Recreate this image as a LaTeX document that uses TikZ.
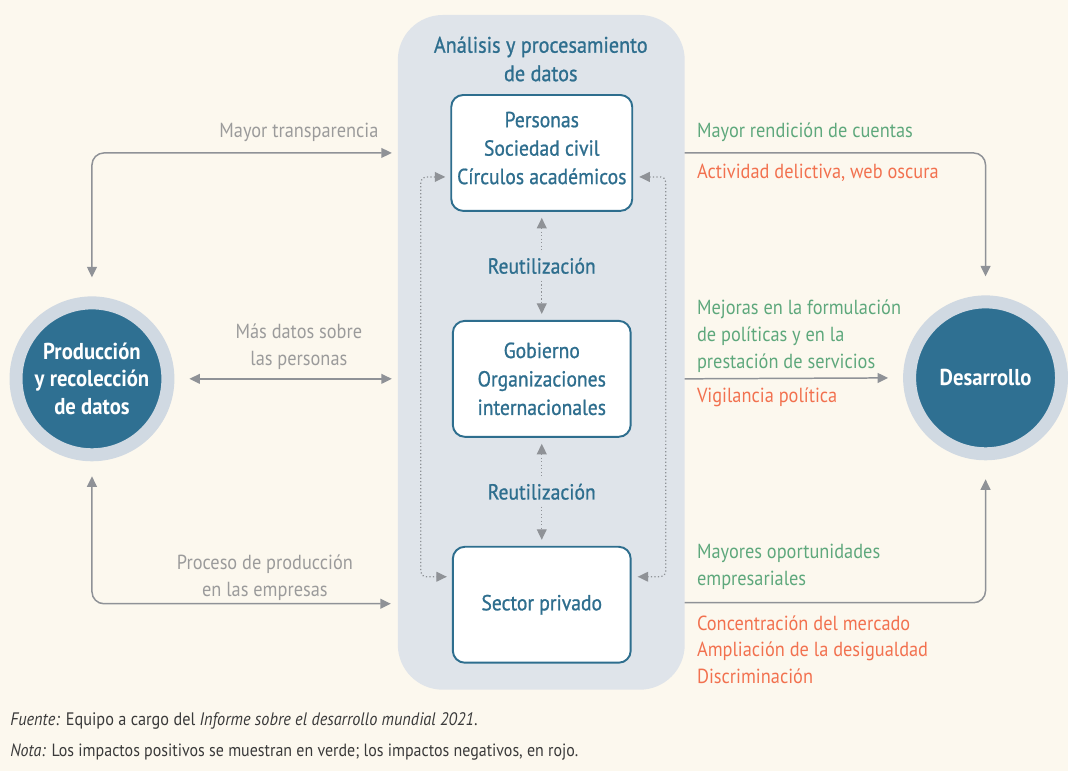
\documentclass[tikz,border=0pt]{standalone}
\usepackage{fontspec}
\setmainfont{PT Sans}[FakeStretch=0.9]
\newfontfamily\medfont{PT Sans}[FakeStretch=0.9,FakeBold=0.9]
\usetikzlibrary{arrows.meta,calc}

\definecolor{bgcream}{HTML}{FCF8EE}
\definecolor{panelgray}{HTML}{DFE4EA}
\definecolor{tealtxt}{HTML}{2E6E8E}
\definecolor{hubblue}{HTML}{2F7092}
\definecolor{hubring}{HTML}{D0D9E2}
\definecolor{arrowgray}{HTML}{8F9297}
\definecolor{labelgray}{HTML}{9B9B9B}
\definecolor{goodgreen}{HTML}{5EA87C}
\definecolor{badred}{HTML}{F2714F}
\definecolor{notetxt}{HTML}{3A3A3A}

\tikzset{
  databox/.style={draw=tealtxt, line width=1.1pt, fill=white, rounded corners=0.24cm,
    minimum width=3.56cm, minimum height=2.32cm, align=center, text=tealtxt,
    font=\medfont\fontsize{12.4}{16.2}\selectfont},
  hub/.style={circle, fill=hubblue, draw=hubring, line width=0.26cm, minimum size=3.04cm,
    inner sep=0pt, align=center, text=white, font=\bfseries\fontsize{13.1}{15.9}\selectfont},
  grayline/.style={draw=arrowgray, line width=0.85pt},
  dotline/.style={draw=arrowgray, line width=0.7pt, dash pattern=on 0.7pt off 1.3pt},
  reuse/.style={fill=panelgray, text=tealtxt, inner sep=3pt, font=\medfont\fontsize{12.4}{16.2}\selectfont},
  lbl/.style={inner sep=0pt, font=\fontsize{11.6}{15.3}\selectfont},
}

\begin{document}
\begin{tikzpicture}[x=0.02cm, y=-0.02cm, >={Triangle[length=6pt,width=5.6pt]}]
  % Background and central panel
  \fill[bgcream] (0,0) rectangle (1068,771);
  \fill[panelgray, rounded corners=0.9cm] (398,15) rectangle (685,690);

  % Title of the panel
  \node[align=center, text=tealtxt, font=\medfont\fontsize{12.8}{16.2}\selectfont] (titulo) at (541,59) {Análisis y procesamiento\\de datos};

  % Actors in the panel
  \node[databox] (personas) at (542,153) {\raisebox{1.7pt}[\height][\depth]{\begin{tabular}{@{}c@{}}Personas\\Sociedad civil\\Círculos académicos\end{tabular}}};
  \node[databox] (gobierno) at (542,379) {Gobierno\\Organizaciones\\internacionales};
  \node[databox] (privado) at (542,605) {Sector privado};

  % Circles on both sides
  \node[hub] (produccion) at (92,379) {Producción\\y recolección\\de datos};
  \node[hub] (desarrollo) at (986,378) {Desarrollo};

  % Reuse between actors
  \draw[dotline,<->,shorten <=0.12cm,shorten >=0.12cm] (personas.south) -- node[reuse] (reuso1) {Reutilización} (gobierno.north);
  \draw[dotline,<->,shorten <=0.12cm,shorten >=0.12cm] (gobierno.south) -- node[reuse] (reuso2) {Reutilización} (privado.north);
  \draw[dotline,<->,rounded corners=0.1cm] ($(personas.west)+(-5,24)$) -| (421,400) |- ($(privado.west)+(-5,-28)$);
  \draw[dotline,<->,rounded corners=0.1cm] ($(personas.east)+(6,24)$) -| (666,400) |- ($(privado.east)+(6,-28)$);

  % Left side connectors
  \coordinate (inTop) at (392,153);
  \coordinate (inMid) at (392,379);
  \coordinate (inBot) at (391,604);
  \draw[grayline,<->,rounded corners=0.24cm,shorten <=0.38cm] (produccion.north) |- (inTop);
  \draw[grayline,<->,shorten <=0.3cm] (produccion.east) -- (inMid);
  \draw[grayline,<->,rounded corners=0.24cm,shorten <=0.3cm] (produccion.south) |- (inBot);
  \node[lbl, anchor=east, text=labelgray] (transp) at (379,132) {Mayor transparencia};
  \node[lbl, align=center, text=labelgray] (masdatos) at (299,347) {Más datos sobre\\las personas};
  \node[lbl, align=center, text=labelgray] (proceso) at (265,578) {Proceso de producción\\en las empresas};

  % Right side connectors
  \coordinate (outTop) at (685,153);
  \coordinate (outMid) at (685,379);
  \coordinate (outBot) at (685,603);
  \draw[grayline,->,rounded corners=0.24cm,shorten >=0.38cm] (outTop) -| (desarrollo.north);
  \draw[grayline,->,shorten >=0.3cm] (outMid) -- (desarrollo.west);
  \draw[grayline,->,rounded corners=0.24cm,shorten >=0.38cm] (outBot) -| (desarrollo.south);
  \node[lbl, anchor=west, text=goodgreen] (rendicion) at (697,132) {Mayor rendición de cuentas};
  \node[lbl, anchor=west, text=badred] (delictiva) at (697,173) {Actividad delictiva, web oscura};
  \node[lbl, anchor=west, align=left, text=goodgreen] (mejoras) at (697,336) {Mejoras en la formulación\\de políticas y en la\\prestación de servicios};
  \node[lbl, anchor=west, text=badred] (vigilancia) at (697,397) {Vigilancia política};
  \node[lbl, anchor=west, align=left, text=goodgreen] (oportunidades) at (697,567) {Mayores oportunidades\\empresariales};
  \node[lbl, anchor=west, align=left, text=badred] (concentracion) at (697,650) {Concentración del mercado\\Ampliación de la desigualdad\\Discriminación};

  % Notes
  \node[anchor=west, inner sep=0pt, text=notetxt, font=\fontsize{10.3}{12}\selectfont] (fuente) at (10,721) {\textit{Fuente:} Equipo a cargo del \textit{Informe sobre el desarrollo mundial 2021}.};
  \node[anchor=west, inner sep=0pt, text=notetxt, font=\fontsize{10.1}{12}\selectfont] (nota) at (10,752) {\textit{Nota:} Los impactos positivos se muestran en verde; los impactos negativos, en rojo.};
\end{tikzpicture}
\end{document}
